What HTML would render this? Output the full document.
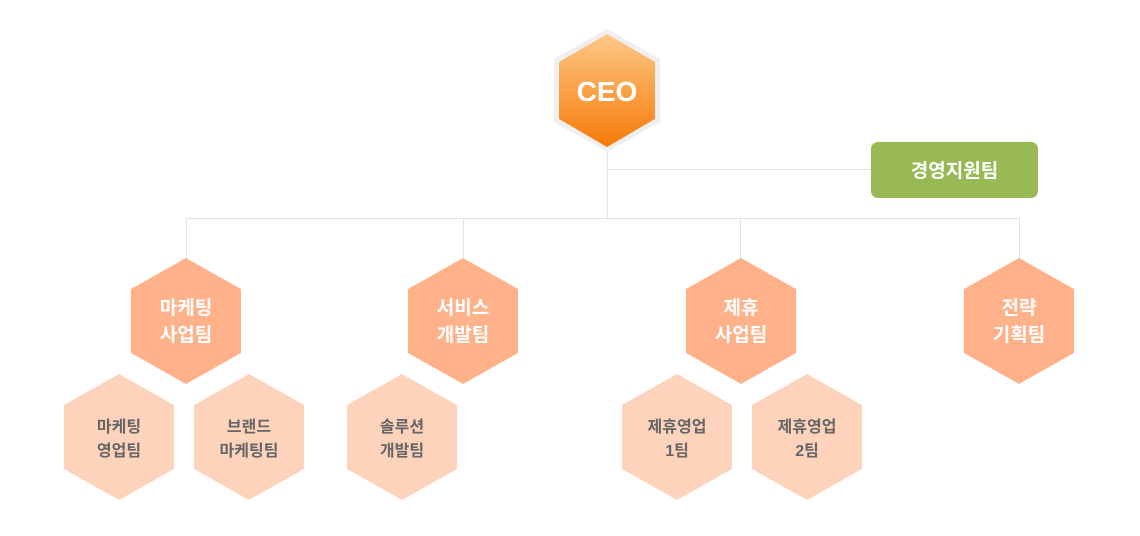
<!DOCTYPE html>
<html><head><meta charset="utf-8"><style>
html,body{margin:0;padding:0;background:#fff;}
svg{display:block}
text{font-family:"Liberation Sans","Noto Sans CJK KR",sans-serif;font-weight:bold;text-anchor:middle}
</style></head><body>
<svg width="1140" height="536" viewBox="0 0 1140 536" xmlns="http://www.w3.org/2000/svg">
<defs><linearGradient id="g" x1="0" y1="0" x2="0" y2="1"><stop offset="0" stop-color="#fdc888"/><stop offset="1" stop-color="#f77b08"/></linearGradient></defs>
<g stroke="#e2e2e2" stroke-width="1" fill="none">
<line x1="607.5" y1="150" x2="607.5" y2="218"/>
<line x1="607" y1="169.5" x2="872" y2="169.5"/>
<line x1="186" y1="218.5" x2="1020" y2="218.5"/>
<line x1="186.5" y1="218" x2="186.5" y2="260"/>
<line x1="463.5" y1="218" x2="463.5" y2="260"/>
<line x1="740.5" y1="218" x2="740.5" y2="260"/>
<line x1="1019.5" y1="218" x2="1019.5" y2="260"/>
</g>
<polygon points="607,29 660,59 660,122 607,152 554,122 554,59" fill="#efefef"/>
<polygon points="607,34 655,62 655,119 607,147 559,119 559,62" fill="url(#g)"/>
<text x="607" y="101" font-size="28" fill="#fff">CEO</text>
<rect x="871" y="142" width="167" height="56" rx="7" fill="#98b954"/>
<text x="954.5" y="177" font-size="19" fill="#fff">경영지원팀</text>
<g fill="#ffb28a">
<polygon points="186,258 241,289 241,353 186,384 131,353 131,289"/>
<polygon points="463,258 518,289 518,353 463,384 408,353 408,289"/>
<polygon points="741,258 796,289 796,353 741,384 686,353 686,289"/>
<polygon points="1019,258 1074,289 1074,353 1019,384 964,353 964,289"/>
</g>
<g font-size="19" fill="#fff">
<text x="186" y="314">마케팅</text><text x="186" y="341">사업팀</text>
<text x="463" y="314">서비스</text><text x="463" y="341">개발팀</text>
<text x="741" y="314">제휴</text><text x="741" y="341">사업팀</text>
<text x="1019" y="314">전략</text><text x="1019" y="341">기획팀</text>
</g>
<g fill="#fed3bc">
<polygon points="119,374 174,405 174,469 119,500 64,469 64,405"/>
<polygon points="249,374 304,405 304,469 249,500 194,469 194,405"/>
<polygon points="402,374 457,405 457,469 402,500 347,469 347,405"/>
<polygon points="677,374 732,405 732,469 677,500 622,469 622,405"/>
<polygon points="807,374 862,405 862,469 807,500 752,469 752,405"/>
</g>
<g font-size="16" fill="#666">
<text x="119" y="432">마케팅</text><text x="119" y="456">영업팀</text>
<text x="249" y="432">브랜드</text><text x="249" y="456">마케팅팀</text>
<text x="402" y="432">솔루션</text><text x="402" y="456">개발팀</text>
<text x="677" y="432">제휴영업</text><text x="677" y="456">1팀</text>
<text x="807" y="432">제휴영업</text><text x="807" y="456">2팀</text>
</g>
</svg>
</body></html>
